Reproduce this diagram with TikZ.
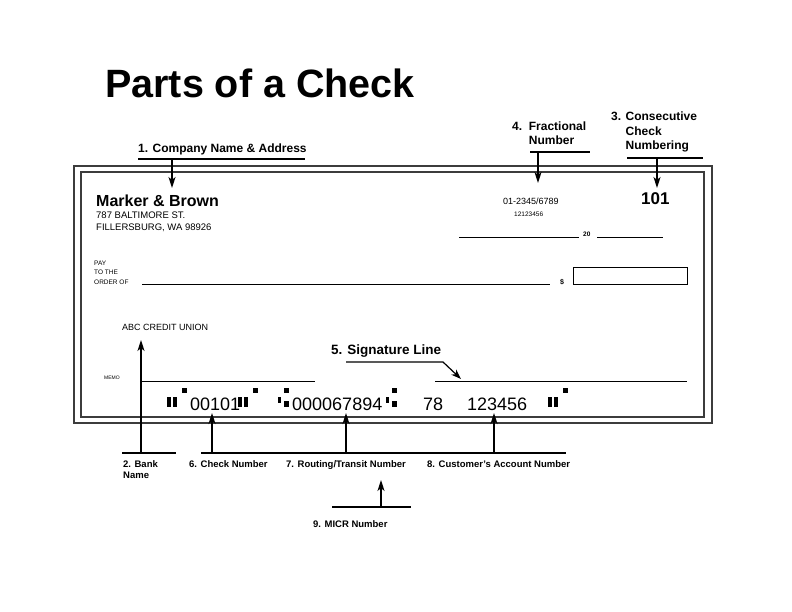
\documentclass[tikz,border=0pt]{standalone}
\usepackage{fontspec}
\setmainfont{Liberation Sans}
\usetikzlibrary{arrows.meta,positioning}
\definecolor{chkedge}{RGB}{60,60,60}
\newcommand{\fs}[2]{\fontsize{#1}{#2}\selectfont}

\begin{document}
\begin{tikzpicture}[x=1pt,y=-1pt,
    txt/.style={inner sep=0pt,anchor=base west,align=left},
    tag/.style={txt,font=\fs{12}{14.5}\bfseries},
    subtag/.style={txt,font=\fs{9.5}{11.5}\bfseries},
    pointer/.style={line width=1.6pt,-{Stealth[length=11pt,width=7pt,inset=3pt]}},
    bar/.style={line width=1.6pt},
    rule/.style={line width=0.8pt},
    frame/.style={line width=1.5pt,chkedge}]
  \useasboundingbox (0,0) rectangle (792,612);

  % title
  \node[txt,font=\fs{39.5}{42}\bfseries] (title) at (105,98) {Parts of a Check};

  % the check
  \draw[frame] (74,166) rectangle (712,423);
  \draw[frame] (81,172) rectangle (704,417);
  \node[txt,font=\fs{16}{18}\bfseries] (firm) at (96,207) {Marker \& Brown};
  \node[txt,font=\fs{9.5}{12}] (addr) at (96,231) {787 BALTIMORE ST.\\FILLERSBURG, WA 98926};
  \node[txt,font=\fs{9}{11}] (frac) at (503,205) {01-2345/6789};
  \node[txt,font=\fs{6.5}{8}] (abano) at (514,217) {12123456};
  \node[txt,font=\fs{17}{19}\bfseries] (chkno) at (641,205) {101};
  \draw[rule] (459,237) -- (579,237);
  \node[txt,font=\fs{6.5}{8}\bfseries] (year) at (583,237) {20};
  \draw[rule] (597,237) -- (663,237);
  \node[txt,font=\fs{6.5}{9.5}] (pay) at (94,284) {PAY\\TO THE\\ORDER OF};
  \draw[rule] (142,284) -- (550,284);
  \node[txt,font=\fs{7}{8}\bfseries] (dollar) at (560,284) {\$};
  \draw[rule] (573,267) rectangle (687,284);
  \node[txt,font=\fs{9}{11}] (bank) at (122,330) {ABC CREDIT UNION};
  \node[txt,font=\fs{5}{6}] (memo) at (104,379) {MEMO};
  \draw[rule] (142,381) -- (315,381);
  \draw[rule] (435,381) -- (687,381);

  % MICR line
  \node[txt,font=\fs{18}{20}] (chkdig) at (190,410) {00101};
  \node[txt,font=\fs{18}{20}] (routdig) at (292,410) {000067894};
  \node[txt,font=\fs{18}{20}] (seqdig) at (423,410) {78};
  \node[txt,font=\fs{18}{20}] (acctdig) at (467,410) {123456};
  % on-us and transit symbols
  \foreach \x in {167,238,548}{
    \fill (\x,397) rectangle ++(4,10);
    \fill (\x+6,397) rectangle ++(4,10);
    \fill (\x+15,388) rectangle ++(5,5);
  }
  \foreach \x in {278,386}{
    \fill (\x,397) rectangle ++(3,6);
    \fill (\x+6,388) rectangle ++(5,5);
    \fill (\x+6,401) rectangle ++(5,6);
  }

  % labels above
  \node[tag] (lbl1) at (138,153) {1. Company Name \& Address};
  \node[tag] (lbl4) at (512,145) {4.\ \ Fractional\\\phantom{4.\ \ }Number};
  \node[tag] (lbl3) at (611,150) {3. Consecutive\\\phantom{3. }Check\\\phantom{3. }Numbering};
  \node[tag,font=\fs{13.5}{15}\bfseries] (lbl5) at (331,354) {5. Signature Line};
  \coordinate (b1) at (172,159);
  \coordinate (t1) at (172,188);
  \coordinate (b4) at (538,152);
  \coordinate (t4) at (538,183);
  \coordinate (b3) at (657,158);
  \coordinate (t3) at (657,188);
  \coordinate (s0) at (346,362);
  \coordinate (s1) at (443,362);
  \coordinate (s2) at (461,379);
  \draw[bar] (138,159) -- (305,159);
  \draw[bar] (530,152) -- (590,152);
  \draw[bar] (627,158) -- (703,158);
  \draw[pointer] (b1) -- (t1);
  \draw[pointer] (b4) -- (t4);
  \draw[pointer] (b3) -- (t3);
  \draw[line width=1.2pt,-{Stealth[length=10pt,width=7pt,inset=3pt]}] (s0) -- (s1) -- (s2);

  % labels below
  \coordinate (micr) at (0,413);
  \coordinate (m2) at (141,453);
  \coordinate (t2) at (141,340);
  \coordinate (m6) at (212,453);
  \coordinate (m7) at (346,453);
  \coordinate (m8) at (494,453);
  \coordinate (m9) at (381,507);
  \coordinate (t9) at (381,480);
  \draw[bar] (122,453) -- (176,453);
  \draw[bar] (201,453) -- (566,453);
  \draw[bar] (332,507) -- (411,507);
  \draw[pointer] (m2) -- (t2);
  \foreach \m in {m6,m7,m8}
    \draw[pointer] (\m) -- (\m |- micr);
  \draw[pointer] (m9) -- (t9);
  \node[subtag] (lbl2) at (123,478.5) {2. Bank\\Name};
  \node[subtag] (lbl6) at (189,467) {6. Check Number};
  \node[subtag] (lbl7) at (286,467) {7. Routing/Transit Number};
  \node[subtag] (lbl8) at (427,467) {8. Customer’s Account Number};
  \node[subtag] (lbl9) at (313,527) {9. MICR Number};
\end{tikzpicture}
\end{document}
